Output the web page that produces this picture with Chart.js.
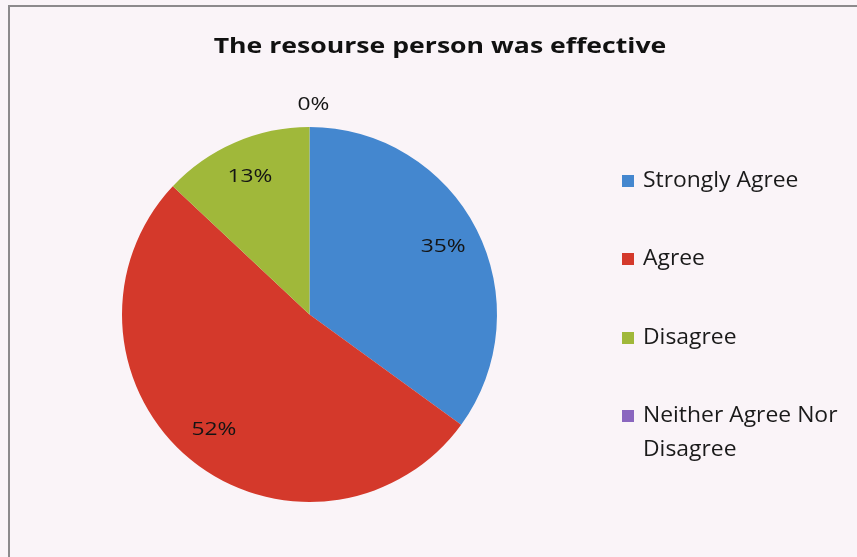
<!DOCTYPE html>
<html>
<head>
<meta charset="utf-8">
<script src="https://cdn.jsdelivr.net/npm/chart.js@4.4.1/dist/chart.umd.min.js"></script>
<style>
  html, body { margin: 0; padding: 0; background: #faf4f8; }
  #wrap { position: relative; width: 857px; height: 557px; }
  canvas { display: block; }
</style>
</head>
<body>
<div id="wrap"><canvas id="c" width="857" height="557"></canvas></div>
<script>
const chartTitle = "The resourse person was effective";
const categories = ["Strongly Agree", "Agree", "Disagree", "Neither Agree Nor Disagree"];
const legendLines = [["Strongly Agree"], ["Agree"], ["Disagree"], ["Neither Agree Nor", "Disagree"]];
const values = [35, 52, 13, 0];
const sliceColors = ["#4487cf", "#d4392b", "#a0b83a", "#8a66bf"];

const FONT = "'Open Sans', 'Liberation Sans', sans-serif";

function drawText(ctx, text, x, y, font, scaleX, align) {
  ctx.save();
  ctx.font = font;
  ctx.textBaseline = "middle";
  ctx.textAlign = align;
  ctx.translate(x, y);
  ctx.scale(scaleX, 1);
  ctx.fillText(text, 0, 0);
  ctx.restore();
}

const decor = {
  id: "decor",
  beforeDraw(chart) {
    const ctx = chart.ctx;
    ctx.save();
    ctx.fillStyle = "#faf4f8";
    ctx.fillRect(0, 0, chart.width, chart.height);
    ctx.strokeStyle = "#8c8a8c";
    ctx.lineWidth = 2;
    ctx.beginPath();
    ctx.moveTo(9, chart.height);
    ctx.lineTo(9, 6);
    ctx.lineTo(chart.width, 6);
    ctx.stroke();
    ctx.restore();
  },
  afterDatasetsDraw(chart) {
    const ctx = chart.ctx;
    const meta = chart.getDatasetMeta(0);
    const total = values.reduce((a, b) => a + b, 0);
    ctx.save();
    // title
    ctx.fillStyle = "#111";
    drawText(ctx, chartTitle, 440, 47, "bold 22px " + FONT, 1.21, "center");
    // slice labels
    meta.data.forEach((arc, i) => {
      const p = arc.getProps(["x", "y", "startAngle", "endAngle", "outerRadius"], true);
      const mid = (p.startAngle + p.endAngle) / 2;
      const pct = Math.round(values[i] / total * 100) + "%";
      let r = p.outerRadius * 0.8;
      let dx = 0;
      if (values[i] === 0) { r = p.outerRadius * 1.12; dx = 4; }
      const x = p.x + Math.cos(mid) * r + dx;
      const y = p.y + Math.sin(mid) * r;
      ctx.fillStyle = "#141414";
      drawText(ctx, pct, x, y, "19px " + FONT, 1.2, "center");
    });
    // legend
    const legendY = [181, 259, 338, 416];
    legendLines.forEach((lines, i) => {
      ctx.fillStyle = sliceColors[i];
      ctx.fillRect(622, legendY[i] - 6, 12, 12);
      ctx.fillStyle = "#1a1a1a";
      lines.forEach((t, j) => drawText(ctx, t, 643, legendY[i] + j * 34, "21px " + FONT, 1.09, "left"));
    });
    ctx.restore();
  }
};

new Chart(document.getElementById("c"), {
  type: "pie",
  data: {
    labels: categories,
    datasets: [{
      data: values,
      backgroundColor: sliceColors,
      borderWidth: 0
    }]
  },
  options: {
    responsive: false,
    animation: false,
    layout: { padding: { left: 122, right: 360, top: 127, bottom: 55 } },
    plugins: {
      legend: { display: false },
      title: { display: false },
      tooltip: { enabled: false }
    }
  },
  plugins: [decor]
});
</script>
</body>
</html>
